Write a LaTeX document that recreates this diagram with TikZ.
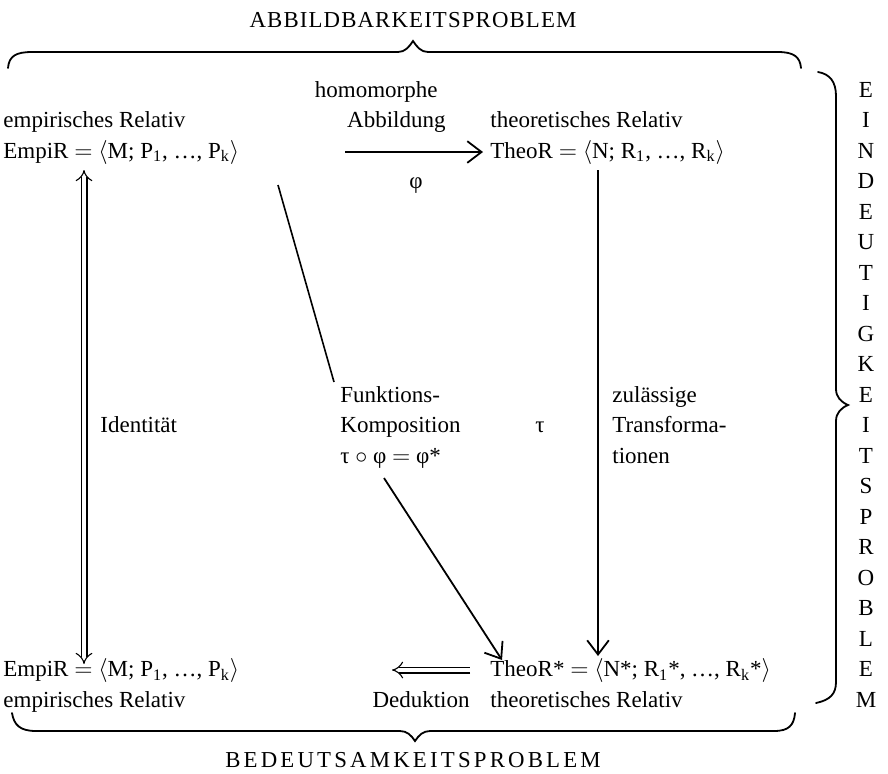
\documentclass[tikz,border=0pt]{standalone}
\usepackage{fontspec}
\setmainfont{Liberation Serif}
\newfontfamily\capsfont[LetterSpace=5]{Liberation Serif}
\newfontfamily\widecaps[LetterSpace=14]{Liberation Serif}
\usetikzlibrary{arrows.meta}
\newcommand{\idx}[1]{\textsubscript{#1}}

\begin{document}
\begin{tikzpicture}[x=0.5pt,y=-0.5pt,
  txt/.style={inner sep=0pt,anchor=base west,font=\fontsize{11.5}{13}\selectfont},
  ctr/.style={inner sep=0pt,anchor=base,font=\fontsize{11.5}{13}\selectfont},
  pfeil/.style={line width=0.9pt,-{Straight Barb[length=2.5mm,width=3.8mm,line width=0.9pt]}},
  strich/.style={line width=0.8pt},
  dpfeil/.style={double,double distance=2.4pt,line width=0.55pt},
  klammer/.style={line width=0.9pt,line cap=round}]
  \useasboundingbox (0,0) rectangle (888,773);
  % braces
  \draw[klammer] (8,68) .. controls (9,56) and (16,52) .. (32,52) -- (398,52)
    .. controls (405,52) and (409,47) .. (413,41) .. controls (417,47) and (421,52) .. (428,52)
    -- (778,52) .. controls (794,52) and (800,57) .. (801,68);
  \draw[klammer] (12,713) .. controls (14,725) and (20,731) .. (36,731) -- (400,731)
    .. controls (407,731) and (411,735) .. (415,741) .. controls (419,735) and (423,731) .. (430,731)
    -- (774,731) .. controls (789,731) and (794,725) .. (795,713);
  \draw[klammer] (818,72) .. controls (830,74) and (836,82) .. (836,96) -- (836,389)
    .. controls (836,397) and (841,402) .. (848,405) .. controls (841,408) and (836,413) .. (836,421)
    -- (836,682) .. controls (836,694) and (830,700) .. (816,703);
  \node[ctr,font=\capsfont\fontsize{11.4}{13}\selectfont] (obenlabel) at (413,27) {ABBILDBARKEITSPROBLEM};
  \node[ctr,font=\widecaps\fontsize{11.4}{13}\selectfont] (untenlabel) at (413,767) {BEDEUTSAMKEITSPROBLEM};
  \foreach \b [count=\i from 0] in {E,I,N,D,E,U,T,I,G,K,E,I,T,S,P,R,O,B,L,E,M}
    \node[ctr] (e\i) at (866,97+30.5*\i) {\b};
  % top row
  \node[txt] (emp1) at (3,127.5) {empirisches Relativ};
  \node[txt] (emp2) at (3,158) {EmpiR $=$ $\langle$M; P\idx{1}, \dots, P\idx{k}$\rangle$};
  \node[ctr,anchor=base east] (hom1) at (438,97) {homomorphe};
  \node[ctr,anchor=base east] (hom2) at (446,127.5) {Abbildung};
  \node[ctr] (phi) at (416,188.5) {φ};
  \node[txt] (theo1) at (490,127.5) {theoretisches Relativ};
  \node[txt] (theo2) at (490,158) {TheoR $=$ $\langle$N; R\idx{1}, \dots, R\idx{k}$\rangle$};
  % middle
  \node[txt] (ident) at (100,432.5) {Identität};
  \node[txt] (fk1) at (340,402) {Funktions-};
  \node[txt] (fk2) at (340,432.5) {Komposition};
  \node[txt] (fk3) at (340,463) {τ $\circ$ φ $=$ φ*};
  \node[ctr] (tau) at (540,432.5) {τ};
  \node[txt] (zt1) at (612,402) {zulässige};
  \node[txt] (zt2) at (612,432.5) {Transforma-};
  \node[txt] (zt3) at (612,463) {tionen};
  % bottom row
  \node[txt] (emp3) at (3,676.5) {EmpiR $=$ $\langle$M; P\idx{1}, \dots, P\idx{k}$\rangle$};
  \node[txt] (emp4) at (3,707) {empirisches Relativ};
  \node[ctr,anchor=base east] (ded) at (470,707) {Deduktion};
  \node[txt] (theo3) at (490,676.5) {TheoR* $=$ $\langle$N*; R\idx{1}*, \dots, R\idx{k}*$\rangle$};
  \node[txt] (theo4) at (490,707) {theoretisches Relativ};
  % arrow ends
  \coordinate (phiA) at (345,152);
  \coordinate (phiB) at (483,152);
  \coordinate (tauA) at (598,170);
  \coordinate (tauB) at (598,656);
  \coordinate (idA) at (84,170);
  \coordinate (idB) at (84,664);
  \coordinate (dedA) at (470,670);
  \coordinate (dedB) at (392,670);
  \coordinate (komA) at (278,185);
  \coordinate (komB) at (334,382);
  \coordinate (komC) at (384,478);
  \coordinate (komD) at (502,660);
  % arrows
  \draw[pfeil] (phiA) -- (phiB);
  \draw[pfeil] (tauA) -- (tauB);
  \draw[dpfeil,{Implies}-{Implies}] (idA) -- (idB);
  \draw[dpfeil,-{Implies}] (dedA) -- (dedB);
  \draw[strich] (komA) -- (komB);
  \draw[pfeil] (komC) -- (komD);
\end{tikzpicture}
\end{document}
